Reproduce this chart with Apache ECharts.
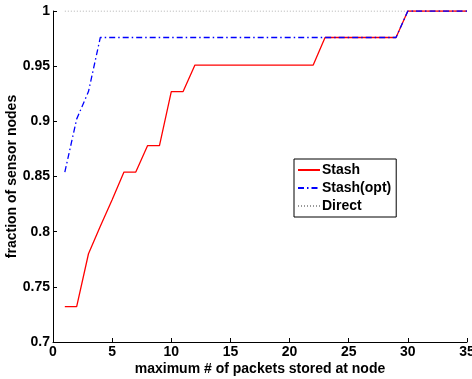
<!DOCTYPE html>
<html>
<head>
<meta charset="utf-8">
<script src="https://cdn.jsdelivr.net/npm/echarts@6/dist/echarts.min.js"></script>
<style>
  html, body { margin: 0; padding: 0; background: #fff; }
  #chart { width: 472px; height: 379px; }
</style>
</head>
<body>
<div id="chart"></div>
<script>
// packets stored at node (x) and fraction of sensor nodes (y)
const packets = [1, 2, 3, 4, 5, 6, 7, 8, 9, 10, 11, 12, 13, 14, 15, 16, 17, 18, 19, 20,
  21, 22, 23, 24, 25, 26, 27, 28, 29, 30, 31, 32, 33, 34, 35];
const stash = [0.732, 0.732, 0.780, 0.805, 0.829, 0.854, 0.854, 0.878, 0.878, 0.927,
  0.927, 0.951, 0.951, 0.951, 0.951, 0.951, 0.951, 0.951, 0.951, 0.951,
  0.951, 0.951, 0.976, 0.976, 0.976, 0.976, 0.976, 0.976, 0.976, 1, 1, 1, 1, 1, 1];
const stashOpt = [0.854, 0.902, 0.927, 0.976, 0.976, 0.976, 0.976, 0.976, 0.976, 0.976,
  0.976, 0.976, 0.976, 0.976, 0.976, 0.976, 0.976, 0.976, 0.976, 0.976,
  0.976, 0.976, 0.976, 0.976, 0.976, 0.976, 0.976, 0.976, 0.976, 1, 1, 1, 1, 1, 1];
const direct = packets.map(() => 1);
const yTicks = [0.7, 0.75, 0.8, 0.85, 0.9, 0.95, 1];

const font = 'Liberation Sans, Arial, Helvetica, sans-serif';
const pairs = (ys) => packets.map((x, i) => [x, ys[i]]);

const myChart = echarts.init(document.getElementById('chart'));

const option = {
  animation: false,
  grid: { left: 53, top: 11, right: 5, bottom: 37, containLabel: false, outerBoundsMode: 'none' },
  legend: {
    orient: 'vertical',
    left: 294,
    top: 159,
    padding: [4, 5, 4, 3],
    itemGap: 4,
    itemWidth: 22,
    itemHeight: 15,
    borderColor: '#000',
    borderWidth: 1,
    itemStyle: { opacity: 0 },
    textStyle: { fontFamily: font, fontWeight: 'bold', fontSize: 14, color: '#000', padding: [0, 0, 0, -3] },
    data: ['Stash', 'Stash(opt)', 'Direct']
  },
  xAxis: {
    type: 'value',
    min: 0,
    max: 35,
    interval: 5,
    name: 'maximum # of packets stored at node',
    nameLocation: 'middle',
    nameGap: 20,
    nameMoveOverlap: false,
    nameTextStyle: { fontFamily: font, fontWeight: 'bold', fontSize: 14, color: '#000' },
    axisLine: { lineStyle: { color: '#000', width: 1 } },
    axisTick: { inside: true, length: 4, lineStyle: { color: '#000' } },
    axisLabel: { fontFamily: font, fontWeight: 'bold', fontSize: 14, color: '#000', margin: 3 },
    splitLine: { show: false }
  },
  yAxis: {
    type: 'value',
    min: 0.7,
    max: 1,
    interval: 0.05,
    name: 'fraction of sensor nodes',
    nameLocation: 'middle',
    nameGap: 34,
    nameMoveOverlap: false,
    nameTextStyle: { fontFamily: font, fontWeight: 'bold', fontSize: 14, color: '#000' },
    axisLine: { show: true, lineStyle: { color: '#000', width: 1 } },
    axisTick: { show: true, inside: true, length: 4, lineStyle: { color: '#000' } },
    axisLabel: {
      fontFamily: font, fontWeight: 'bold', fontSize: 14, color: '#000', margin: 3,
      formatter: (v) => {
        const t = yTicks.find((y) => Math.abs(y - v) < 1e-6);
        return t === undefined ? '' : String(t);
      }
    },
    splitLine: { show: false }
  },
  series: [
    {
      name: 'Direct',
      type: 'line',
      data: pairs(direct),
      symbol: 'none',
      z: 1,
      itemStyle: { color: '#999' },
      lineStyle: { color: '#999', width: 1, type: [1, 2] }
    },
    {
      name: 'Stash',
      type: 'line',
      data: pairs(stash),
      symbol: 'none',
      z: 2,
      itemStyle: { color: '#ff0000' },
      lineStyle: { color: '#ff0000', width: 1.3 }
    },
    {
      name: 'Stash(opt)',
      type: 'line',
      data: pairs(stashOpt),
      symbol: 'none',
      z: 3,
      itemStyle: { color: '#0000ff' },
      lineStyle: { color: '#0000ff', width: 1.3, type: [6, 3, 1.5, 3] }
    }
  ]
};

myChart.setOption(option);
</script>
</body>
</html>
